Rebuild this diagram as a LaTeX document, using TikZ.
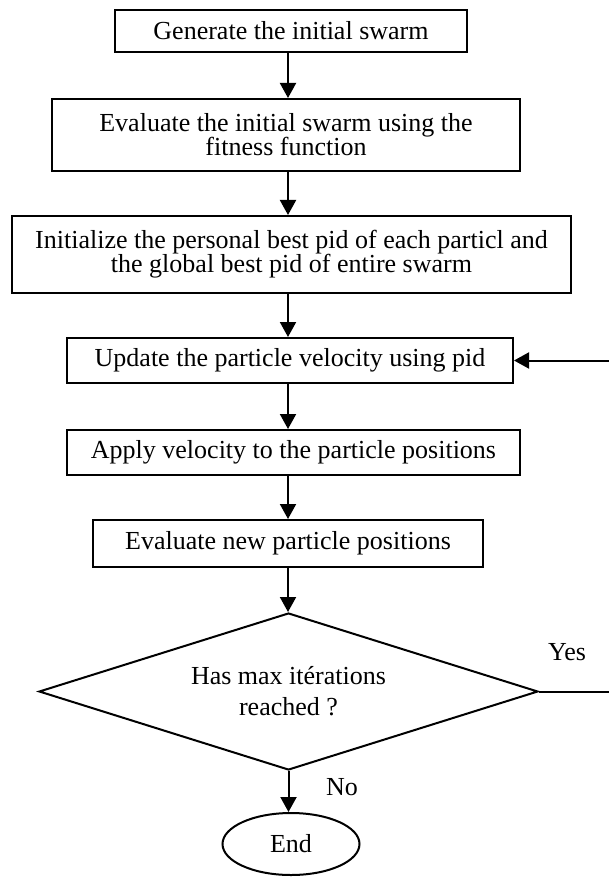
\documentclass[tikz,border=0pt]{standalone}
\usepackage{fontspec}
\setmainfont{Liberation Serif}
\usetikzlibrary{shapes.geometric,arrows.meta}
\begin{document}
\begin{tikzpicture}[x=0.5pt,y=-0.5pt,
  txt/.style={font=\fontsize{13}{12}\selectfont},
  box/.style={draw,line width=1pt,inner sep=0pt,align=center,txt},
  arr/.style={line width=1pt,-{Triangle[length=7.5pt,width=8pt]}},
  lbl/.style={txt,inner sep=0pt}]
\useasboundingbox (0,0) rectangle (609,877);
\coordinate (col) at (288,0);
\coordinate (rx) at (614,0);
\node[box,minimum width=176pt,minimum height=21pt] (b1) at (291,31) {Generate the initial swarm};
\node[box,minimum width=234pt,minimum height=36pt] (b2) at (286,135) {Evaluate the initial swarm using the\\fitness function};
\node[box,minimum width=279.5pt,minimum height=38.5pt] (b3) at (291.5,254.5) {Initialize the personal best pid of each particl and\\the global best pid of entire swarm};
\node[box,minimum width=223pt,minimum height=22.5pt] (b4) at (290,360.5) {Update the particle velocity using pid};
\node[box,minimum width=226.5pt,minimum height=22.5pt] (b5) at (293.5,452.5) {Apply velocity to the particle positions};
\node[box,minimum width=195pt,minimum height=23.5pt] (b6) at (288,543.5) {Evaluate new particle positions};
\node[box,diamond,shape aspect=3.2,minimum width=249.5pt,minimum height=78.5pt] (dec) at (288.5,691.5) {Has max itérations\\[3.5pt]reached ?};
\node[box,ellipse,minimum width=68.5pt,minimum height=31pt] (end) at (291,844) {End};
\node[lbl] (yes) at (567,652) {Yes};
\node[lbl] (no) at (342,787) {No};
\draw[arr] (b1.south -| col) -- (b2.north -| col);
\draw[arr] (b2.south -| col) -- (b3.north -| col);
\draw[arr] (b3.south -| col) -- (b4.north -| col);
\draw[arr] (b4.south -| col) -- (b5.north -| col);
\draw[arr] (b5.south -| col) -- (b6.north -| col);
\draw[arr] (b6.south -| col) -- (dec.north -| col);
\draw[arr] (dec.south) -- (end.north -| dec.south);
\draw[arr] (dec.east) -- (dec.east -| rx) |- (b4.east);
\end{tikzpicture}
\end{document}
